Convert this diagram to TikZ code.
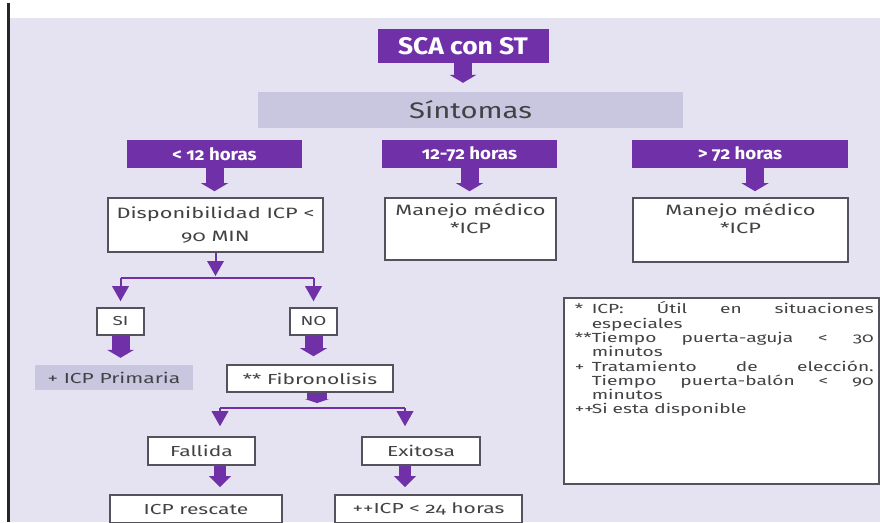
\documentclass[tikz,border=0pt]{standalone}
\usepackage{fontspec}
\setmainfont{Fira Sans}[Numbers=OldStyle]
\newfontfamily\hdrfont{Fira Sans}[Numbers=OldStyle, FakeStretch=1.1]
\newfontfamily\bodyfont{Fira Sans}[Numbers=OldStyle, FakeStretch=1.45]
\newfontfamily\bandfont{Fira Sans}[Numbers=OldStyle, FakeStretch=1.3]
\usetikzlibrary{arrows.meta}

\definecolor{lav}{RGB}{229,226,241}
\definecolor{purp}{RGB}{112,48,168}
\definecolor{sintfill}{RGB}{201,198,224}
\definecolor{ink}{RGB}{66,66,70}
\definecolor{frame}{RGB}{84,82,92}

% one line of the footnote box: marker, then the words spread to the full width
\newcommand\noteline[2]{\noindent\makebox[17pt][l]{#1}\makebox[282pt][s]{#2}\par}
% last (short) line of a footnote item
\newcommand\notetail[2]{\noindent\makebox[17pt][l]{#1}#2\par}

\begin{document}
\begin{tikzpicture}[x=1pt,y=-1pt,
  hdr/.style={fill=purp,text=white,inner sep=0,minimum height=28pt,
    font=\hdrfont\bfseries\fontsize{17}{20}\selectfont},
  wbox/.style={draw=frame,line width=1.6pt,fill=white,text=ink,inner sep=0,
    align=center,font=\bodyfont\fontsize{15}{23}\selectfont},
  gbox/.style={fill=sintfill,text=ink,inner sep=0},
  blockarrow/.style={draw=purp,line width=18pt,
    -{Triangle[width=27pt,length=8pt,line width=0pt]}},
  smallblock/.style={draw=purp,line width=12pt,
    -{Triangle[width=22pt,length=11pt,line width=0pt]}},
  thinline/.style={draw=purp,line width=2pt},
  thinarrow/.style={thinline,-{Triangle[width=17pt,length=15pt,line width=0pt]}},
]
\useasboundingbox (0,0) rectangle (880,522);
% page background and left rule
\fill[white] (0,0) rectangle (880,522);
\fill[lav] (10,18) rectangle (880,522);
\draw[line width=3pt,black!85] (8.5,3) -- (8.5,522);

% title and symptom band
\node[hdr,minimum width=171pt,minimum height=34pt,
  font=\hdrfont\bfseries\fontsize{24}{26}\selectfont] (sca) at (463,46) {SCA con ST};
\node[gbox,minimum width=425pt,minimum height=36pt,
  font=\bandfont\fontsize{22.5}{24}\selectfont] (sint) at (470.5,110) {Síntomas};
\draw[blockarrow,shorten >=9pt] (sca.south) -- (sca.south |- sint.north);

% time windows
\node[hdr,minimum width=175pt] (h1) at (214.5,154) {< 12 horas};
\node[hdr,minimum width=175pt] (h2) at (469.5,154) {12-72 horas};
\node[hdr,minimum width=216pt] (h3) at (740,154) {> 72 horas};

\node[wbox,minimum width=215pt,minimum height=54pt] (disp) at (215.5,225)
  {Disponibilidad ICP <\\90 MIN};
\node[wbox,font=\bodyfont\fontsize{15}{18}\selectfont] (man1) at (470.5,229)
  {\parbox[c][62pt][t]{171pt}{\centering\vspace*{5pt}Manejo médico\\{}*ICP}};
\node[wbox,font=\bodyfont\fontsize{15}{18}\selectfont] (man2) at (740.5,230)
  {\parbox[c][64pt][t]{215pt}{\centering\vspace*{5pt}Manejo médico\\{}*ICP}};

\coordinate (a3) at ([xshift=15pt]h3.south);
\draw[blockarrow,shorten >=6pt] (h1.south) -- (h1.south |- disp.north);
\draw[blockarrow,shorten >=6pt] (h2.south) -- (h2.south |- man1.north);
\draw[blockarrow,shorten >=6pt] (a3) -- (a3 |- man2.north);

% availability fork
\node[wbox,minimum width=47pt,minimum height=27pt,
  font=\bodyfont\fontsize{13}{15}\selectfont] (si) at (120.5,321.5) {SI};
\node[wbox,minimum width=47pt,minimum height=27pt,
  font=\bodyfont\fontsize{13}{15}\selectfont] (no) at (313.5,321.5) {NO};
\coordinate (f1) at (215.5,278);
\coordinate (f1l) at (120.5,278);
\coordinate (f1r) at (313.5,278);
\draw[thinarrow,shorten >=2pt] (disp.south) -- (f1);
\draw[thinline] (f1l) -- (f1r);
\draw[thinarrow,shorten >=6pt] (f1l) -- (si.north);
\draw[thinarrow,shorten >=6pt] (f1r) -- (no.north);

\node[gbox,minimum width=158pt,minimum height=25pt,
  font=\bodyfont\fontsize{14.5}{16}\selectfont] (prim) at (114,377.5) {+ ICP Primaria};
\node[wbox,minimum width=166pt,minimum height=27pt,
  font=\bodyfont\fontsize{14.5}{16}\selectfont] (fibro) at (310,378.5) {** Fibronolisis};
\draw[blockarrow,shorten >=7pt] (si.south) -- (si.south |- prim.north);
\draw[blockarrow,shorten >=8pt] (no.south) -- (no.south |- fibro.north);

% fibrinolysis outcome fork
\coordinate (f2) at (317,408);
\coordinate (f2l) at (220,408);
\coordinate (f2r) at (405,408);
\draw[draw=purp,line width=20pt,-{Triangle[width=24pt,length=4pt,line width=0pt]},
  shorten >=5pt] (fibro.south -| f2) -- (f2);
\draw[thinline] (f2l) -- (f2r);

\node[wbox,minimum width=107pt,minimum height=28pt,
  font=\bodyfont\fontsize{14.5}{16}\selectfont] (fall) at (201.5,451) {Fallida};
\node[wbox,minimum width=118pt,minimum height=28pt,
  font=\bodyfont\fontsize{14.5}{16}\selectfont] (exit) at (421,451) {Exitosa};
\draw[thinarrow,shorten >=10pt] (f2l) -- (f2l |- fall.north);
\draw[thinarrow,shorten >=10pt] (f2r) -- (f2r |- exit.north);

\node[wbox,minimum width=172pt,minimum height=28pt,
  font=\bodyfont\fontsize{14.5}{16}\selectfont] (resc) at (196,509) {ICP rescate};
\node[wbox,minimum width=187pt,minimum height=28pt,
  font=\bodyfont\fontsize{14.5}{16}\selectfont] (icp24) at (428.5,509) {++ICP < 24 horas};
\draw[smallblock,shorten >=7pt] (f2l |- fall.south) -- (f2l |- resc.north);
\draw[smallblock,shorten >=7pt] (f2r |- exit.south) -- (f2r |- icp24.north);

% footnotes
\node[draw=frame,line width=1.6pt,fill=white,inner sep=0,anchor=north west] (note)
  at (563,297) {\parbox[c][186pt][t]{315pt}{%
    \bodyfont\fontsize{13.2}{14.3}\selectfont\color{ink}%
    \parindent=0pt\leftskip=11pt
    \vspace*{4pt}
    \noteline{*}{ICP: Útil en situaciones}
    \notetail{}{especiales}
    \noteline{**}{Tiempo puerta-aguja < 30}
    \notetail{}{minutos}
    \noteline{+}{Tratamiento de elección.}
    \noteline{}{Tiempo puerta-balón < 90}
    \notetail{}{minutos}
    \notetail{++}{Si esta disponible}
  }};
\end{tikzpicture}
\end{document}
